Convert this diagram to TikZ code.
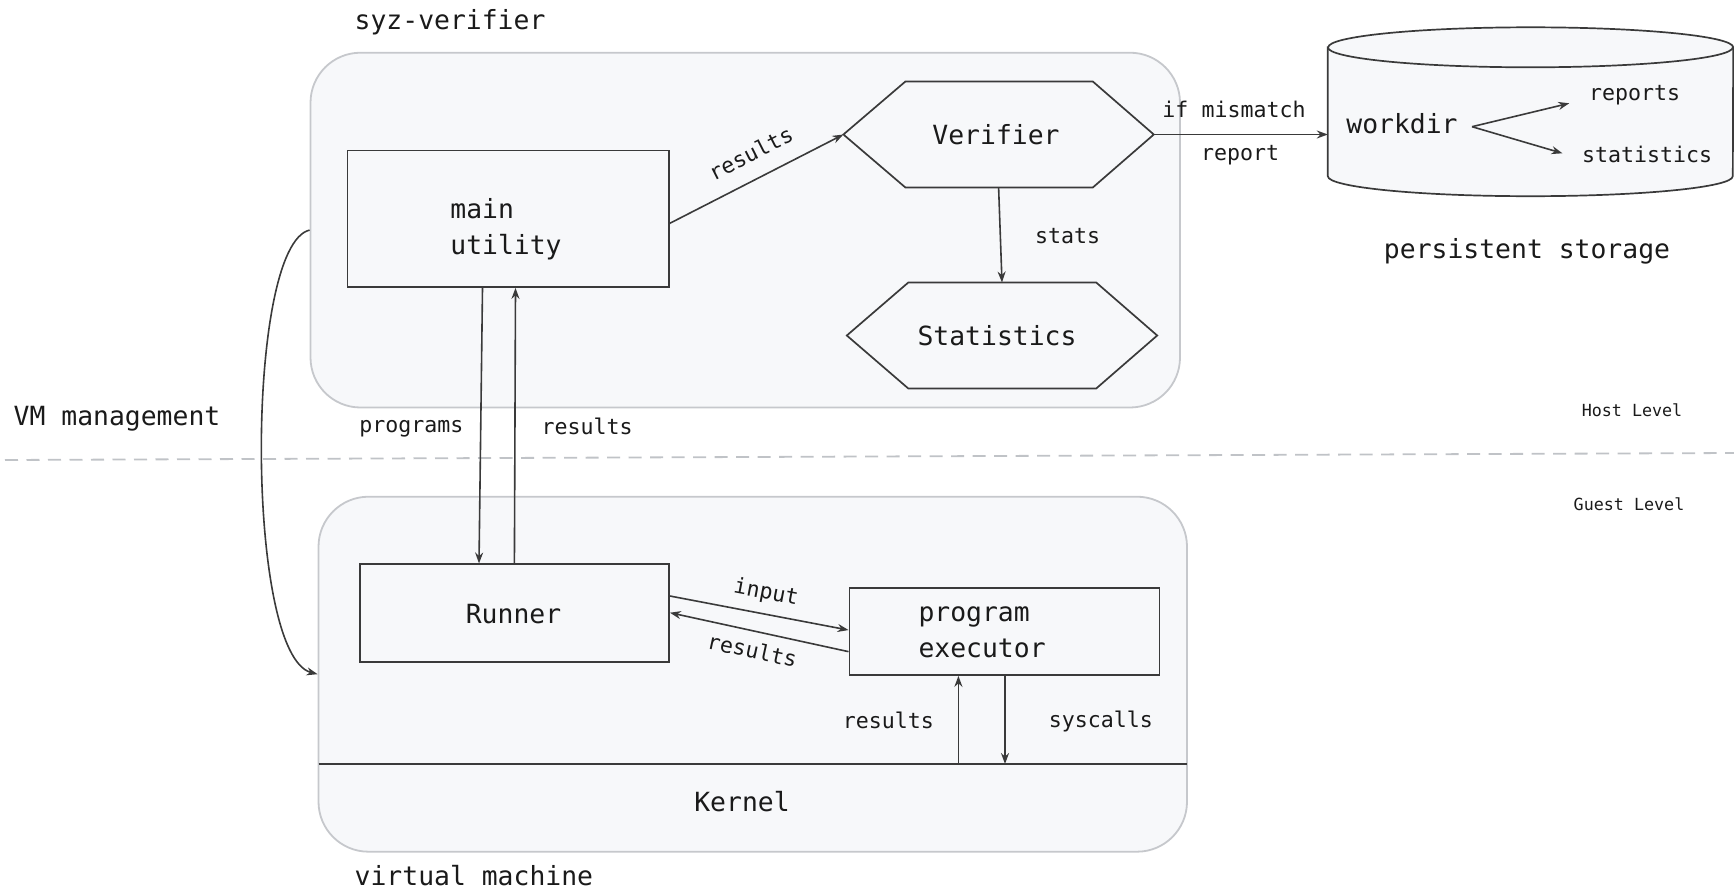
\documentclass[tikz,border=0pt]{standalone}
\usepackage{fontspec}
\setmonofont{DejaVu Sans Mono}
\usetikzlibrary{arrows.meta,calc}
\definecolor{ink}{HTML}{3A3A3A}
\definecolor{txt}{HTML}{1A1A1A}
\definecolor{panel}{HTML}{F7F8FA}
\definecolor{rim}{HTML}{C6C8CC}
\definecolor{sepgray}{HTML}{C0C3C7}
\begin{document}
\begin{tikzpicture}[x=1pt,y=-1pt,
  big/.style={font=\ttfamily\fontsize{26.4}{36}\selectfont, text=txt, inner sep=0pt, align=left},
  mid/.style={font=\ttfamily\fontsize{21.6}{28}\selectfont, text=txt, inner sep=0pt},
  tiny/.style={font=\ttfamily\fontsize{16.7}{20}\selectfont, text=txt, inner sep=0pt},
  container/.style={draw=rim, fill=panel, line width=1.8pt, rounded corners=50pt, inner sep=0pt},
  stepbox/.style={draw=ink, fill=panel, line width=1.7pt, inner sep=0pt},
  frame/.style={inner sep=0pt},
  outline/.style={draw=ink, fill=panel, line width=1.7pt},
  arr/.style={draw=ink, line width=1.6pt, -{Stealth[length=11pt,width=8pt]}}]
\useasboundingbox (0,0) rectangle (1734,891);

% host and guest containers
\node[container, minimum width=869.5, minimum height=354.8] (host) at (745.25,230.1) {};
\node[container, minimum width=868.5, minimum height=355] (guest) at (752.75,674.2) {};
\node[big, anchor=west] (hostname) at (354.5,22) {syz-verifier};
\node[big, anchor=west] (guestname) at (354.5,876) {virtual machine};

% level separator
\draw[sepgray, line width=1.8pt, dash pattern=on 13pt off 8.5pt] (5,460) coordinate (sepl) -- (1734,453) coordinate (sepr);
\node[tiny] (hostlvl) at (1632,410.7) {Host Level};
\node[tiny] (guestlvl) at (1629,504.3) {Guest Level};

% host side blocks
\node[stepbox, minimum width=321.4, minimum height=136.7] (mu) at (508.3,218.7) {};
\node[big] (mutext) at (506,229) {main\\utility};

\node[frame, minimum width=310, minimum height=105.6] (ver) at (998.6,134.5) {};
\path[outline] (ver.west) -- ($(ver.north west)+(62,0)$) -- ($(ver.north east)+(-61,0)$)
  -- (ver.east) -- ($(ver.south east)+(-61,0)$) -- ($(ver.south west)+(62,0)$) -- cycle;
\node[big] (vertext) at (996,135) {Verifier};

\node[frame, minimum width=310, minimum height=105.6] (stat) at (1002,335.5) {};
\path[outline] (stat.west) -- ($(stat.north west)+(61.5,0)$) -- ($(stat.north east)+(-61,0)$)
  -- (stat.east) -- ($(stat.south east)+(-61,0)$) -- ($(stat.south west)+(61.5,0)$) -- cycle;
\node[big] (stattext) at (997,336) {Statistics};

% persistent storage cylinder
\node[frame, minimum width=405, minimum height=128.5] (cyl) at (1530.5,111.75) {};
\path[outline] (cyl.north west) -- (cyl.south west)
  arc[start angle=180, end angle=0, x radius=202.5, y radius=20]
  -- (cyl.north east)
  arc[start angle=0, end angle=-180, x radius=202.5, y radius=20] -- cycle;
\draw[ink, line width=1.7pt] (cyl.north west) arc[start angle=180, end angle=0, x radius=202.5, y radius=20];
\node[big] (wd) at (1402,123.5) {workdir};
\node[mid] (rep) at (1634.5,95) {reports};
\node[mid] (sts) at (1647,154) {statistics};
\coordinate (fork) at (1472,126.7);
\draw[arr] (fork) -- ($(rep.west)+(-19.5,8.3)$);
\draw[arr] (fork) -- ($(sts.west)+(-19.3,-0.7)$);
\node[big] (storage) at (1527,251.5) {persistent storage};

% guest side blocks
\node[stepbox, minimum width=309.3, minimum height=97.4] (runner) at (514.4,613) {};
\node[big] (runtext) at (513.5,614) {Runner};
\node[stepbox, minimum width=310, minimum height=87.3] (exec) at (1004.4,631.35) {};
\node[big, anchor=west] (exectext) at (918.3,632.5) {program\\executor};

% kernel boundary
\draw[ink, line width=1.8pt] (318.5,764) coordinate (kl) -- (1187,764) coordinate (kr);
\node[big] (kernel) at (742,801.5) {Kernel};

% host connectors
\draw[arr] ($(mu.east)+(0,4.6)$) -- (ver.west);
\node[mid, rotate=26.8] (lres1) at (750.6,153.3) {results};
\draw[arr] (ver.south) -- (stat.north);
\node[mid] (lstats) at (1067.5,236) {stats};
\draw[arr] (ver.east) -- (cyl.west |- ver.east);
\node[mid] (lmis) at (1234,109.5) {if mismatch};
\node[mid] (lrep) at (1240,155.5) {report};

% host <-> guest connectors
\draw[arr] ($(mu.south)+(-25.8,0)$) -- ($(runner.north)+(-35.4,0)$);
\draw[arr] (runner.north) -- ($(mu.south)+(7.2,0)$);
\node[mid] (lprog) at (411.4,429) {programs};
\node[mid] (lres2) at (587.2,426) {results};

% guest connectors
\draw[arr] ($(runner.east)+(0,-17)$) -- ($(exec.west)+(0,-1.3)$);
\node[mid, rotate=-10.75] (linput) at (766,593) {input};
\draw[arr] ($(exec.west)+(0,20.3)$) -- ($(runner.east)+(0,-0.3)$);
\node[mid, rotate=-12.3] (lres3) at (752.4,650) {results};

\coordinate (k1) at (958.4,764);
\coordinate (k2) at (1005,764);
\draw[arr] (k1) -- (k1 |- exec.south);
\draw[arr] (k2 |- exec.south) -- (k2);
\node[mid] (lres4) at (888.4,720) {results};
\node[mid] (lsys) at (1100.8,721) {syscalls};

% VM management
\draw[arr] (host.west) .. controls (245,245) and (245,655) .. (guest.west);
\node[big] (vmm) at (117,419) {VM management};
\end{tikzpicture}
\end{document}
